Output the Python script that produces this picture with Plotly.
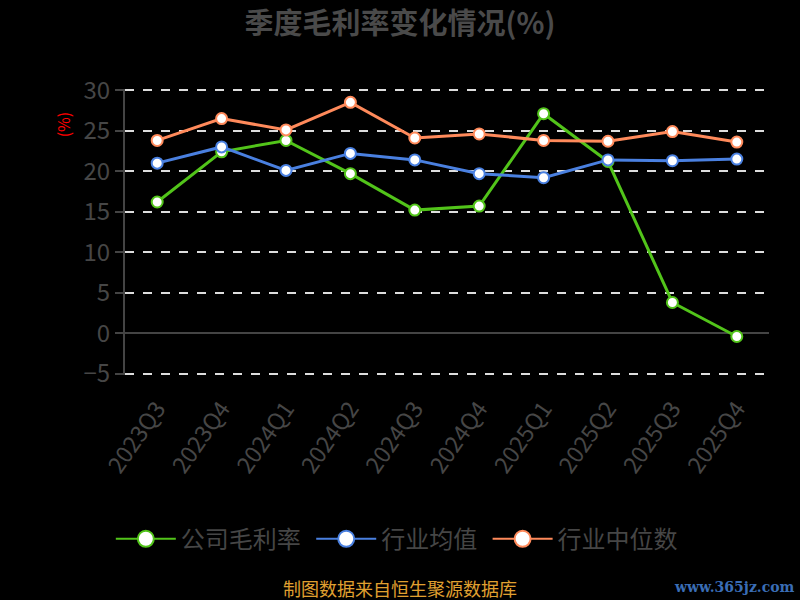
import plotly.graph_objects as go

quarters = ["2023Q3", "2023Q4", "2024Q1", "2024Q2", "2024Q3",
            "2024Q4", "2025Q1", "2025Q2", "2025Q3", "2025Q4"]
company = [16.2, 22.4, 23.8, 19.7, 15.2, 15.7, 27.1, 21.2, 3.8, -0.4]
industry_avg = [21.0, 23.0, 20.1, 22.2, 21.4, 19.7, 19.2, 21.4, 21.3, 21.5]
industry_median = [23.8, 26.5, 25.1, 28.5, 24.1, 24.6, 23.8, 23.7, 24.9, 23.6]
series_names = ["公司毛利率", "行业均值", "行业中位数"]
colors = ["#52c41a", "#4a80e0", "#ff8a5b"]
y_ticks = [-5, 0, 5, 10, 15, 20, 25, 30]

FONT = "Noto Sans CJK SC, Open Sans, sans-serif"
GRAY = "#464646"
PAD = "\u00a0"

fig = go.Figure()
for name, vals, col in zip(series_names, [company, industry_avg, industry_median], colors):
    fig.add_trace(go.Scatter(
        x=quarters, y=vals, name=name, mode="lines+markers",
        legendgroup=name, showlegend=False, cliponaxis=False,
        line=dict(color=col, width=3),
        marker=dict(size=11, color="white", line=dict(color=col, width=2)),
    ))
# legend entries with larger symbols
for name, col in zip(series_names, colors):
    fig.add_trace(go.Scatter(
        x=[None], y=[None], name=name + PAD, mode="lines+markers",
        legendgroup=name, showlegend=True,
        line=dict(color=col, width=2),
        marker=dict(size=22, color="white", line=dict(color=col, width=2)),
    ))

fig.update_layout(
    width=800, height=600,
    paper_bgcolor="black", plot_bgcolor="black",
    margin=dict(l=125, r=31, t=89, b=225),
    font=dict(family=FONT, color=GRAY),
    title=dict(text="<b>季度毛利率变化情况(%)</b>", x=0.5, xanchor="center",
               y=0.96, yanchor="middle",
               font=dict(size=29, color="#4a4a4a", family=FONT)),
    showlegend=True,
    legend=dict(orientation="h", x=-0.022, xanchor="left", y=-0.574, yanchor="middle",
                font=dict(size=24, color=GRAY, family=FONT), itemwidth=60,
                bgcolor="rgba(0,0,0,0)"),
    xaxis=dict(type="category", categoryarray=quarters, categoryorder="array",
               range=[-0.5, 9.5], showgrid=False, zeroline=False, showline=False,
               ticks="outside", ticklen=10, tickcolor="rgba(0,0,0,0)",
               tickangle=-55, tickfont=dict(size=23, color=GRAY, family=FONT)),
    xaxis2=dict(overlaying="x", anchor="free", position=5.15 / 35.3,
                range=[-0.5, 9.5], tickmode="array",
                tickvals=[i - 0.5 for i in range(len(quarters) + 1)],
                showticklabels=False, ticks="outside", ticklen=8, tickwidth=2,
                tickcolor="#444444", showline=False,
                showgrid=False, zeroline=False),
    yaxis=dict(range=[-5.15, 30.15], tickmode="array", tickvals=y_ticks,
               showgrid=True, gridcolor="#dddddd", griddash="dash", gridwidth=1.5,
               zeroline=True, zerolinecolor="#444444", zerolinewidth=2,
               showline=True, linecolor="#444444", linewidth=2,
               ticks="outside", ticklen=8, tickwidth=2, tickcolor="#444444",
               tickfont=dict(size=24, color=GRAY, family=FONT)),
    annotations=[
        dict(text="(%)", textangle=-90, xref="paper", yref="paper",
             x=-0.096, y=0.877, xanchor="center", yanchor="middle", showarrow=False,
             font=dict(size=16, color="#ff0000", family=FONT)),
        dict(text="制图数据来自恒生聚源数据库", xref="paper", yref="paper",
             x=0.427, y=-0.744, xanchor="center", yanchor="middle", showarrow=False,
             font=dict(size=18, color="#e0a030", family=FONT)),
        dict(text="<b>www.365jz.com</b>", xref="paper", yref="paper",
             x=1.043, y=-0.743, xanchor="right", yanchor="middle", showarrow=False,
             font=dict(size=14, color="#3a6db5", family="DejaVu Serif")),
    ],
)

fig.write_html("out.html", config={"displayModeBar": False},
               post_script="document.body.style.margin='0';document.body.style.background='black';")
